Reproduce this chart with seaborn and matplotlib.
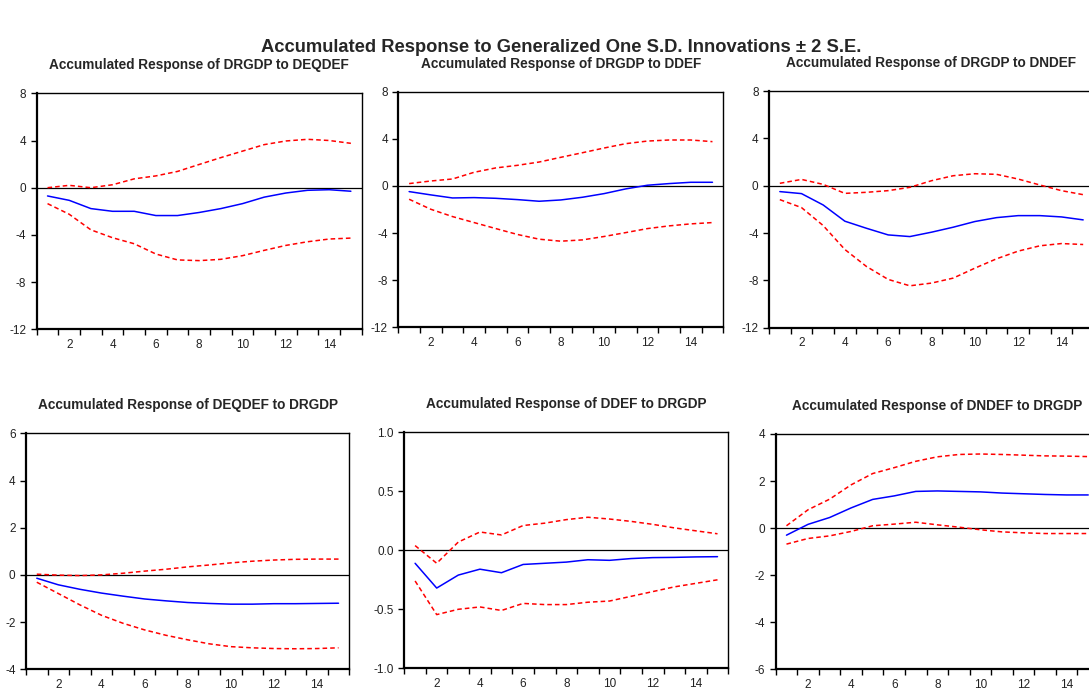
import numpy as np
import pandas as pd
import matplotlib
matplotlib.use("Agg")
import matplotlib.pyplot as plt
import seaborn as sns

sns.set_style("ticks")
plt.rcParams['font.family'] = ['Liberation Sans', 'DejaVu Sans']
plt.rcParams['axes.unicode_minus'] = False

periods = list(range(1, 16))

# response, upper band, lower band for each panel
rgdp_eqdef = [-0.70, -1.07, -1.77, -2.00, -2.00, -2.36, -2.36, -2.10, -1.77, -1.35, -0.80, -0.45, -0.22, -0.17, -0.30]
rgdp_eqdef_hi = [0.00, 0.20, 0.00, 0.25, 0.75, 1.00, 1.38, 1.97, 2.55, 3.10, 3.65, 3.96, 4.10, 4.00, 3.76]
rgdp_eqdef_lo = [-1.35, -2.25, -3.57, -4.24, -4.75, -5.62, -6.12, -6.18, -6.07, -5.76, -5.31, -4.89, -4.58, -4.35, -4.27]

rgdp_def = [-0.48, -0.76, -1.02, -0.99, -1.05, -1.16, -1.30, -1.19, -0.96, -0.65, -0.25, 0.06, 0.20, 0.31, 0.31]
rgdp_def_hi = [0.20, 0.42, 0.59, 1.16, 1.53, 1.75, 2.03, 2.43, 2.82, 3.22, 3.59, 3.81, 3.90, 3.90, 3.76]
rgdp_def_lo = [-1.13, -1.98, -2.60, -3.11, -3.62, -4.12, -4.52, -4.69, -4.58, -4.29, -3.96, -3.62, -3.39, -3.22, -3.11]

rgdp_ndef = [-0.50, -0.67, -1.63, -3.00, -3.60, -4.16, -4.30, -3.93, -3.51, -3.03, -2.70, -2.53, -2.53, -2.64, -2.89]
rgdp_ndef_hi = [0.20, 0.53, 0.11, -0.65, -0.56, -0.42, -0.14, 0.42, 0.84, 1.01, 0.96, 0.56, 0.06, -0.42, -0.76]
rgdp_ndef_lo = [-1.18, -1.85, -3.37, -5.39, -6.83, -7.92, -8.46, -8.23, -7.81, -6.97, -6.18, -5.53, -5.08, -4.89, -4.97]

eqdef_rgdp = [-0.14, -0.42, -0.61, -0.77, -0.90, -1.02, -1.10, -1.17, -1.21, -1.24, -1.24, -1.22, -1.22, -1.21, -1.20]
eqdef_rgdp_hi = [0.03, -0.01, -0.03, 0.00, 0.07, 0.16, 0.24, 0.34, 0.42, 0.51, 0.58, 0.63, 0.66, 0.67, 0.67]
eqdef_rgdp_lo = [-0.31, -0.79, -1.27, -1.71, -2.05, -2.33, -2.56, -2.75, -2.92, -3.04, -3.09, -3.12, -3.13, -3.12, -3.09]

def_rgdp = [-0.11, -0.32, -0.21, -0.16, -0.19, -0.12, -0.11, -0.10, -0.08, -0.085, -0.07, -0.062, -0.06, -0.056, -0.054]
def_rgdp_hi = [0.04, -0.11, 0.07, 0.155, 0.13, 0.21, 0.23, 0.26, 0.28, 0.265, 0.245, 0.22, 0.19, 0.165, 0.14]
def_rgdp_lo = [-0.26, -0.545, -0.50, -0.48, -0.51, -0.45, -0.46, -0.46, -0.44, -0.43, -0.39, -0.35, -0.31, -0.28, -0.25]

ndef_rgdp = [-0.30, 0.16, 0.45, 0.86, 1.22, 1.37, 1.56, 1.58, 1.56, 1.54, 1.49, 1.46, 1.43, 1.41, 1.41]
ndef_rgdp_hi = [0.10, 0.78, 1.23, 1.84, 2.32, 2.57, 2.84, 3.03, 3.13, 3.15, 3.13, 3.10, 3.07, 3.06, 3.04]
ndef_rgdp_lo = [-0.68, -0.44, -0.33, -0.14, 0.10, 0.17, 0.25, 0.14, 0.04, -0.07, -0.16, -0.20, -0.23, -0.23, -0.23]

titles = ['Accumulated Response of DRGDP to DEQDEF', 'Accumulated Response of DRGDP to DDEF',
          'Accumulated Response of DRGDP to DNDEF', 'Accumulated Response of DEQDEF to DRGDP',
          'Accumulated Response of DDEF to DRGDP', 'Accumulated Response of DNDEF to DRGDP']
series = [(rgdp_eqdef, rgdp_eqdef_hi, rgdp_eqdef_lo), (rgdp_def, rgdp_def_hi, rgdp_def_lo),
          (rgdp_ndef, rgdp_ndef_hi, rgdp_ndef_lo), (eqdef_rgdp, eqdef_rgdp_hi, eqdef_rgdp_lo),
          (def_rgdp, def_rgdp_hi, def_rgdp_lo), (ndef_rgdp, ndef_rgdp_hi, ndef_rgdp_lo)]
ylims = [(-12, 8), (-12, 8), (-12, 8), (-4, 6), (-1, 1), (-6, 4)]
yticks = [[-12, -8, -4, 0, 4, 8]] * 3 + [[-4, -2, 0, 2, 4, 6], [-1.0, -0.5, 0.0, 0.5, 1.0], [-6, -4, -2, 0, 2, 4]]

# panel boxes in pixels: left, right, top, bottom
W, H = 1089, 695
boxes = [(36.7, 361.7, 93.3, 329.3), (398.3, 723.3, 91.7, 327.3), (769, 1094, 91, 327.7),
         (26, 349.3, 433.3, 669.3), (404.3, 728.3, 432.3, 668.3), (775.7, 1099, 434, 669.3)]

fig = plt.figure(figsize=(W / 100, H / 100), dpi=100)
fig.text(561 / W, 1 - 48 / H, 'Accumulated Response to Generalized One S.D. Innovations \u00b1 2 S.E.',
         ha='center', va='center', fontsize=13.2, fontweight='bold')

for i in range(6):
    l, r, t, b = boxes[i]
    ax = fig.add_axes([l / W, 1 - b / H, (r - l) / W, (b - t) / H])
    resp, hi, lo = series[i]
    df = pd.DataFrame({'period': periods, 'resp': resp, 'hi': hi, 'lo': lo})
    ax.axhline(0, color='black', lw=0.9, zorder=1)
    sns.lineplot(data=df, x='period', y='hi', ax=ax, color='red', lw=1.1, linestyle=(0, (3, 2)))
    sns.lineplot(data=df, x='period', y='lo', ax=ax, color='red', lw=1.1, linestyle=(0, (3, 2)))
    sns.lineplot(data=df, x='period', y='resp', ax=ax, color='blue', lw=1.1)
    ax.set_xlim(0.5, 15.5)
    ax.set_ylim(*ylims[i])
    ax.set_yticks(yticks[i])
    if i == 4:
        ax.set_yticklabels(['%.1f' % v for v in yticks[i]])
    ax.set_xticks(np.arange(0.5, 16, 1.0))
    ax.set_xticklabels([])
    ax.set_xticks(range(2, 16, 2), minor=True)
    ax.set_xticklabels([str(v) for v in range(2, 16, 2)], minor=True)
    ax.tick_params(axis='x', which='minor', length=0, pad=7)
    ax.tick_params(axis='both', which='major', length=4, width=1, direction='out', color='black')
    ax.tick_params(axis='both', which='both', labelsize=8.5, labelcolor='#222222')
    ax.set_xlabel('')
    ax.set_ylabel('')
    for s in ax.spines.values():
        s.set_visible(True)
        s.set_color('black')
        s.set_linewidth(1.0)
    ax.spines['left'].set_linewidth(1.6)
    ax.spines['bottom'].set_linewidth(1.6)
    ty = t - 28
    fig.text((l + r) / 2 / W, 1 - ty / H, titles[i], ha='center', va='center',
             fontsize=9.8, fontweight='bold')

fig.savefig('out.png', dpi=100)
